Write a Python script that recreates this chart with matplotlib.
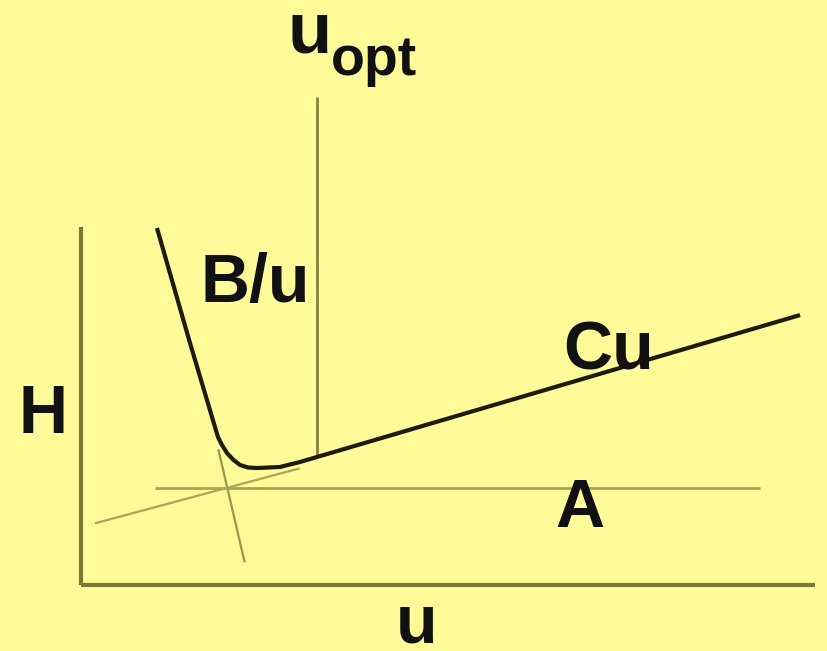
import matplotlib.pyplot as plt

# van Deemter sketch: plate height H against flow velocity u (chart units)
curve_u = [1.035, 1.485, 1.866, 1.921, 1.989, 2.071, 2.166, 2.275, 2.398, 2.711, 2.984, 3.215, 9.796]
curve_h = [4.864, 3.297, 2.016, 1.907, 1.798, 1.710, 1.635, 1.601, 1.594, 1.608, 1.676, 1.744, 3.678]

h_axis_u, h_axis_h = [0, 0], [0, 4.88]
u_axis_u, u_axis_h = [0, 10.0], [0, 0]

a_u, a_h = [1.01, 9.25], [1.32, 1.32]          # A term
bu_u, bu_h = [1.87, 2.23], [1.85, 0.31]        # B/u term extension
cu_u, cu_h = [0.19, 2.98], [0.84, 1.59]        # Cu term extension
opt_u, opt_h = [3.215, 3.215], [1.744, 6.65]   # u_opt marker

bg = '#fffb98'
fig = plt.figure(figsize=(8.28, 6.51), dpi=100, facecolor=bg)
ax = fig.add_axes([0, 0, 1, 1], facecolor=bg)
ax.set_xlim(-1.1035, 10.177)
ax.set_ylim(-0.899, 7.970)
ax.axis('off')

ax.plot(h_axis_u, h_axis_h, color='#7d7935', lw=3.0, solid_capstyle='butt')
ax.plot(u_axis_u, u_axis_h, color='#7d7935', lw=3.0, solid_capstyle='butt')
ax.plot(a_u, a_h, color='#aaa552', lw=2.0, solid_capstyle='butt')
ax.plot(bu_u, bu_h, color='#9a9650', lw=1.6, solid_capstyle='butt')
ax.plot(cu_u, cu_h, color='#aaa55a', lw=1.6, solid_capstyle='butt')
ax.plot(opt_u, opt_h, color='#85813a', lw=2.0, solid_capstyle='butt')
ax.plot(curve_u, curve_h, color='#1e1c08', lw=3.0, solid_capstyle='butt',
        solid_joinstyle='round')

font = dict(family='Liberation Sans', weight='bold', color='#111')
ax.text(2.82, 7.25, 'u', fontsize=52, ha='left', va='baseline', **font)
ax.text(3.40, 6.95, 'opt', fontsize=40, ha='left', va='baseline', **font)
ax.text(-0.52, 2.07, 'H', fontsize=49, ha='center', va='baseline', **font)
ax.text(2.38, 3.86, 'B/u', fontsize=49, ha='center', va='baseline', **font)
ax.text(7.19, 2.94, 'Cu', fontsize=49, ha='center', va='baseline', **font)
ax.text(6.79, 0.79, 'A', fontsize=49, ha='center', va='baseline', **font)
ax.text(4.57, -0.78, 'u', fontsize=49, ha='center', va='baseline', **font)

fig.savefig('out.png', dpi=100, facecolor=bg)
